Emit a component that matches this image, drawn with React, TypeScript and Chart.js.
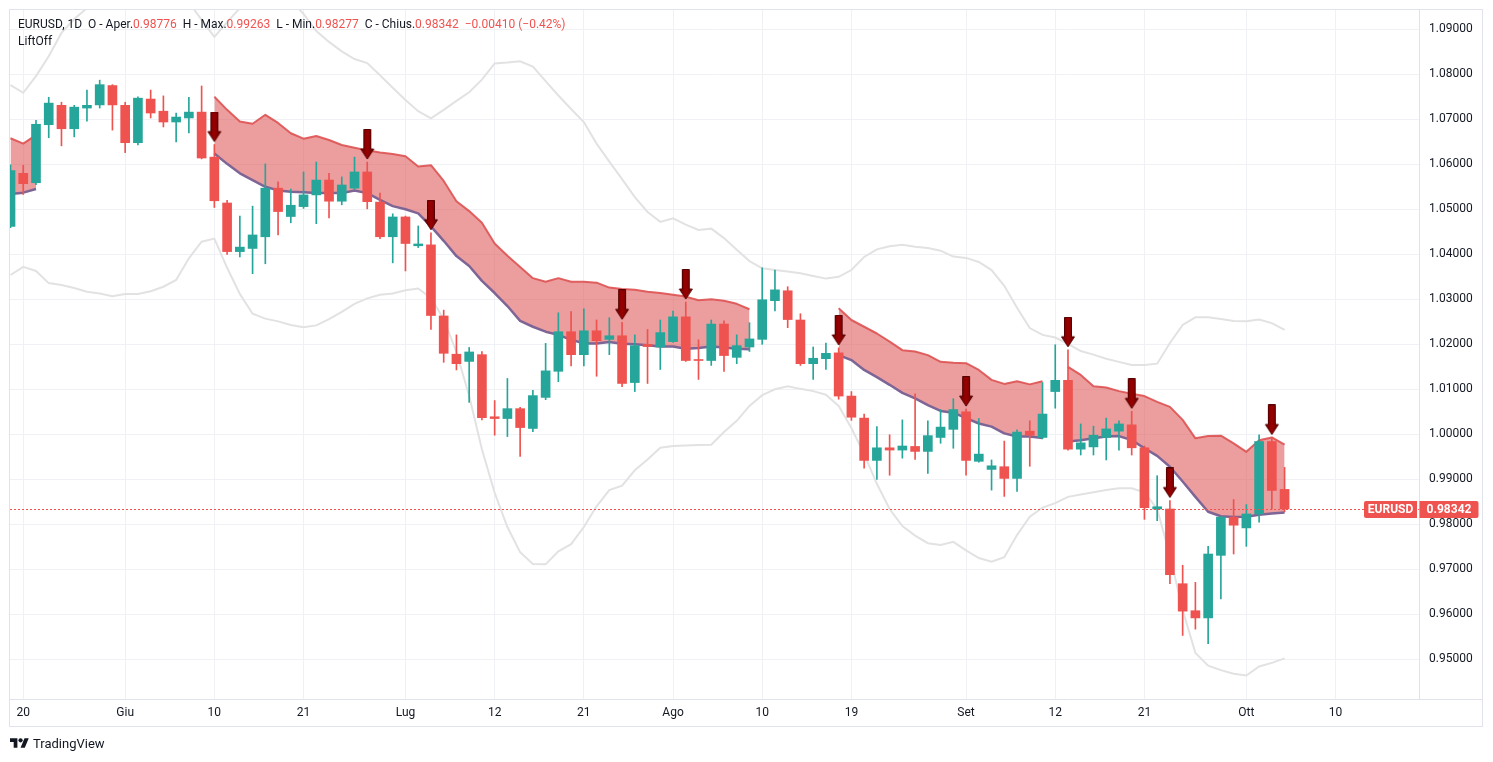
import React, { useEffect, useRef } from 'react';
import { Chart, registerables } from 'chart.js';

Chart.register(...registerables);

// ---------- data ----------
const symbol = 'EURUSD';
const timeframe = '1D';
const indicatorName = 'LiftOff';

const dates = [
  '05-19', '05-20', '05-23', '05-24', '05-25', '05-26', '05-27', '05-30', '05-31',
  '06-01', '06-02', '06-03', '06-06', '06-07', '06-08', '06-09', '06-10', '06-13', '06-14', '06-15', '06-16', '06-17',
  '06-20', '06-21', '06-22', '06-23', '06-24', '06-27', '06-28', '06-29', '06-30',
  '07-01', '07-04', '07-05', '07-06', '07-07', '07-08', '07-11', '07-12', '07-13', '07-14', '07-15',
  '07-18', '07-19', '07-20', '07-21', '07-22', '07-25', '07-26', '07-27', '07-28', '07-29',
  '08-01', '08-02', '08-03', '08-04', '08-05', '08-08', '08-09', '08-10', '08-11', '08-12',
  '08-15', '08-16', '08-17', '08-18', '08-19', '08-22', '08-23', '08-24', '08-25', '08-26',
  '08-29', '08-30', '08-31',
  '09-01', '09-02', '09-05', '09-06', '09-07', '09-08', '09-09', '09-12', '09-13', '09-14', '09-15', '09-16',
  '09-19', '09-20', '09-21', '09-22', '09-23', '09-26', '09-27', '09-28', '09-29', '09-30',
  '10-03', '10-04', '10-05', '10-06',
];
const futureDates = ['10-07', '10-08', '10-09', '10-10', '10-11', '10-12', '10-13', '10-14', '10-15', '10-16', '10-17'];

const opens = [
  1.0462, 1.0580, 1.0559, 1.0688, 1.0731, 1.0679, 1.0725, 1.0732, 1.0775, 1.0731,
  1.0648, 1.0745, 1.0718, 1.0694, 1.0703, 1.0716, 1.0616, 1.0514, 1.0406, 1.0413,
  1.0439, 1.0547, 1.0484, 1.0506, 1.0532, 1.0565, 1.0518, 1.0547, 1.0583, 1.0516,
  1.0439, 1.0483, 1.0419, 1.0421, 1.0263, 1.0178, 1.0162, 1.0177, 1.0039, 1.0035,
  1.0057, 1.0013, 1.0082, 1.0140, 1.0228, 1.0177, 1.0230, 1.0211, 1.0219, 1.0115,
  1.0200, 1.0194, 1.0206, 1.0261, 1.0166, 1.0164, 1.0245, 1.0171, 1.0194, 1.0211,
  1.0297, 1.0319, 1.0254, 1.0157, 1.0168, 1.0181, 1.0085, 1.0036, 0.9942, 0.9970,
  0.9965, 0.9973, 0.9962, 0.9993, 1.0011, 1.0050, 0.9940, 0.9922, 0.9928, 0.9902,
  1.0007, 0.9993, 1.0095, 1.0120, 0.9967, 0.9972, 0.9993, 1.0007, 1.0021, 0.9970,
  0.9834, 0.9834, 0.9668, 0.9608, 0.9592, 0.9731, 0.9816, 0.9792, 0.9823, 0.9984,
  0.98776,
];
const highs = [
  1.0599, 1.0598, 1.0698, 1.0749, 1.0738, 1.0731, 1.0765, 1.0787, 1.0777, 1.0738,
  1.0750, 1.0765, 1.0752, 1.0714, 1.0749, 1.0774, 1.0644, 1.0520, 1.0485, 1.0507,
  1.0601, 1.0561, 1.0545, 1.0583, 1.0605, 1.0580, 1.0572, 1.0616, 1.0605, 1.0536,
  1.0490, 1.0485, 1.0463, 1.0448, 1.0276, 1.0221, 1.0193, 1.0184, 1.0075, 1.0124,
  1.0060, 1.0098, 1.0202, 1.0270, 1.0273, 1.0279, 1.0254, 1.0259, 1.0249, 1.0221,
  1.0233, 1.0254, 1.0274, 1.0294, 1.0210, 1.0254, 1.0252, 1.0221, 1.0248, 1.0370,
  1.0365, 1.0328, 1.0268, 1.0194, 1.0203, 1.0192, 1.0095, 1.0045, 1.0017, 0.9999,
  1.0032, 1.0090, 1.0030, 1.0055, 1.0079, 1.0056, 1.0035, 0.9943, 0.9985, 1.0010,
  1.0030, 1.0115, 1.0199, 1.0188, 1.0023, 1.0018, 1.0036, 1.0030, 1.0051, 0.9974,
  0.9908, 0.9853, 0.9709, 0.9671, 0.9751, 0.9817, 0.9855, 0.9844, 0.9999, 0.9993,
  0.99263,
];
const lows = [
  1.0459, 1.0533, 1.0555, 1.0659, 1.0641, 1.0661, 1.0696, 1.0725, 1.0676, 1.0626,
  1.0643, 1.0703, 1.0683, 1.0650, 1.0670, 1.0612, 1.0504, 1.0400, 1.0394, 1.0357,
  1.0379, 1.0443, 1.0470, 1.0502, 1.0468, 1.0481, 1.0510, 1.0545, 1.0501, 1.0435,
  1.0381, 1.0363, 1.0415, 1.0233, 1.0160, 1.0143, 1.0071, 1.0032, 0.9998, 0.9995,
  0.9951, 1.0006, 1.0077, 1.0117, 1.0152, 1.0152, 1.0129, 1.0177, 1.0106, 1.0095,
  1.0113, 1.0144, 1.0204, 1.0162, 1.0122, 1.0153, 1.0140, 1.0157, 1.0184, 1.0200,
  1.0274, 1.0237, 1.0153, 1.0122, 1.0144, 1.0078, 1.0031, 0.9925, 0.9900, 0.9909,
  0.9947, 0.9944, 0.9913, 0.9980, 0.9969, 0.9909, 0.9938, 0.9876, 0.9862, 0.9873,
  0.9929, 0.9990, 1.0058, 0.9965, 0.9954, 0.9954, 0.9943, 0.9965, 0.9954, 0.9811,
  0.9808, 0.9668, 0.9553, 0.9567, 0.9535, 0.9634, 0.9734, 0.9751, 0.9805, 0.9834,
  0.98277,
];
const closes = [
  1.0586, 1.0557, 1.0689, 1.0736, 1.0679, 1.0727, 1.0731, 1.0777, 1.0732, 1.0648,
  1.0747, 1.0714, 1.0694, 1.0705, 1.0716, 1.0614, 1.0519, 1.0406, 1.0416, 1.0443,
  1.0547, 1.0495, 1.0509, 1.0532, 1.0565, 1.0518, 1.0554, 1.0583, 1.0517, 1.0439,
  1.0483, 1.0424, 1.0423, 1.0264, 1.0180, 1.0157, 1.0183, 1.0037, 1.0035, 1.0057,
  1.0015, 1.0086, 1.0141, 1.0228, 1.0177, 1.0230, 1.0208, 1.0219, 1.0113, 1.0197,
  1.0195, 1.0226, 1.0261, 1.0164, 1.0164, 1.0245, 1.0175, 1.0197, 1.0212, 1.0299,
  1.0321, 1.0255, 1.0157, 1.0169, 1.0180, 1.0085, 1.0038, 0.9942, 0.9970, 0.9965,
  0.9974, 0.9962, 0.9997, 1.0016, 1.0055, 0.9942, 0.9956, 0.9930, 0.9902, 1.0005,
  0.9998, 1.0045, 1.0120, 0.9967, 0.9981, 0.9998, 1.0012, 1.0023, 0.9970, 0.9837,
  0.9839, 0.9688, 0.9607, 0.9592, 0.9734, 0.9816, 0.9798, 0.9823, 0.9984, 0.98752,
  0.98342,
];

const bbUpper = [
  1.0776, 1.0759, 1.0796, 1.0840, 1.0892, 1.0923, 1.0947, 1.0968, 1.0985, 1.0995,
  1.1000, 1.0998, 1.0990, 1.0978, 1.0960, 1.0921, 1.0883, 1.0916, 1.0947, 1.0965,
  1.0975, 1.0978, 1.0965, 1.0934, 1.0896, 1.0872, 1.0851, 1.0834, 1.0825, 1.0798,
  1.0770, 1.0743, 1.0718, 1.0702, 1.0721, 1.0741, 1.0760, 1.0788, 1.0824, 1.0826,
  1.0829, 1.0817, 1.0785, 1.0753, 1.0723, 1.0694, 1.0646, 1.0606, 1.0567, 1.0527,
  1.0494, 1.0472, 1.0480, 1.0466, 1.0454, 1.0457, 1.0436, 1.0410, 1.0385, 1.0369,
  1.0365, 1.0362, 1.0358, 1.0352, 1.0346, 1.0350, 1.0365, 1.0394, 1.0411, 1.0418,
  1.0421, 1.0417, 1.0414, 1.0408, 1.0395, 1.0392, 1.0383, 1.0365, 1.0330, 1.0281,
  1.0236, 1.0221, 1.0215, 1.0201, 1.0185, 1.0177, 1.0168, 1.0161, 1.0154, 1.0154,
  1.0157, 1.0203, 1.0243, 1.0260, 1.0260, 1.0256, 1.0252, 1.0251, 1.0255, 1.0247,
  1.0232,
];
const bbLower = [
  1.0354, 1.0372, 1.0363, 1.0336, 1.0332, 1.0325, 1.0317, 1.0313, 1.0307, 1.0312,
  1.0312, 1.0318, 1.0328, 1.0343, 1.0391, 1.0428, 1.0435, 1.0370, 1.0312, 1.0268,
  1.0257, 1.0251, 1.0243, 1.0238, 1.0242, 1.0256, 1.0272, 1.0290, 1.0302, 1.0310,
  1.0313, 1.0320, 1.0324, 1.0303, 1.0256, 1.0183, 1.0085, 0.9967, 0.9870, 0.9794,
  0.9738, 0.9712, 0.9711, 0.9740, 0.9756, 0.9794, 0.9840, 0.9876, 0.9886, 0.9920,
  0.9944, 0.9970, 0.9974, 0.9975, 0.9976, 0.9977, 1.0005, 1.0030, 1.0063, 1.0087,
  1.0100, 1.0107, 1.0101, 1.0096, 1.0088, 1.0063, 1.0014, 0.9956, 0.9890, 0.9834,
  0.9796, 0.9775, 0.9758, 0.9754, 0.9761, 0.9742, 0.9725, 0.9717, 0.9727, 0.9776,
  0.9817, 0.9837, 0.9847, 0.9861, 0.9866, 0.9871, 0.9876, 0.9880, 0.9880, 0.9871,
  0.9834, 0.9730, 0.9610, 0.9514, 0.9486, 0.9476, 0.9468, 0.9464, 0.9484, 0.9492,
  0.9502,
];

const N = null;
const bandUpper: (number | null)[] = [
  1.0658, 1.0646, 1.0665, N, N, N, N, N, N, N,
  N, N, N, N, N, N, 1.0750, 1.0721, 1.0695, 1.0690,
  1.0710, 1.0692, 1.0669, 1.0657, 1.0663, 1.0654, 1.0643, 1.0637, 1.0631, 1.0626,
  1.0623, 1.0618, 1.0595, 1.0598, 1.0563, 1.0518, 1.0496, 1.0470, 1.0424, 1.0397,
  1.0372, 1.0347, 1.0339, 1.0347, 1.0339, 1.0339, 1.0337, 1.0326, 1.0323, 1.0321,
  1.0317, 1.0314, 1.0310, 1.0306, 1.0298, 1.0300, 1.0297, 1.0290, 1.0278, N,
  N, N, N, N, N, 1.0280, 1.0254, 1.0239, 1.0224, 1.0206,
  1.0187, 1.0184, 1.0176, 1.0161, 1.0159, 1.0158, 1.0143, 1.0121, 1.0112, 1.0118,
  1.0111, 1.0118, N, 1.0150, 1.0132, 1.0107, 1.0104, 1.0096, 1.0090, 1.0085,
  1.0072, 1.0061, 1.0032, 0.9991, 0.9996, 0.9997, 0.9980, 0.9961, 0.9987, 0.9993,
  0.9977,
];
const bandLower: (number | null)[] = [
  1.0534, 1.0537, 1.0545, N, N, N, N, N, N, N,
  N, N, N, N, N, N, 1.0624, 1.0601, 1.0580, 1.0565,
  1.0550, 1.0542, 1.0539, 1.0538, 1.0536, 1.0536, 1.0536, 1.0542, 1.0536, 1.0521,
  1.0507, 1.0500, 1.0491, 1.0462, 1.0430, 1.0396, 1.0374, 1.0341, 1.0314, 1.0285,
  1.0252, 1.0239, 1.0228, 1.0221, 1.0210, 1.0202, 1.0202, 1.0205, 1.0201, 1.0200,
  1.0198, 1.0195, 1.0195, 1.0190, 1.0192, 1.0195, 1.0193, 1.0190, 1.0189, N,
  N, N, N, N, N, 1.0176, 1.0165, 1.0143, 1.0127, 1.0110,
  1.0092, 1.0080, 1.0065, 1.0052, 1.0048, 1.0036, 1.0024, 1.0017, 1.0002, 0.9995,
  0.9995, 0.9992, N, 0.9984, 0.9987, 0.9991, 0.9995, 0.9996, 0.9987, 0.9969,
  0.9952, 0.9928, 0.9895, 0.9861, 0.9828, 0.9818, 0.9816, 0.9817, 0.9821, 0.9824,
  0.9826,
];

const arrowDates = ['06-10', '06-28', '07-05', '07-26', '08-02', '08-18', '09-01', '09-13', '09-20', '09-23', '10-05'];

const tickDates = ['05-20', '06-01', '06-10', '06-21', '07-01', '07-12', '07-21', '08-01', '08-10', '08-19', '09-01', '09-12', '09-21', '10-03', '10-10'];
const tickLabels = ['20', 'Giu', '10', '21', 'Lug', '12', '21', 'Ago', '10', '19', 'Set', '12', '21', 'Ott', '10'];
const priceTicks = [0.95, 0.96, 0.97, 0.98, 0.99, 1.0, 1.01, 1.02, 1.03, 1.04, 1.05, 1.06, 1.07, 1.08, 1.09];

// ---------- style / layout ----------
const UP = '#26a69a';
const DOWN = '#ef5350';
const TEXT = '#131722';
const GRID = '#f0f1f4';
const BORDER = '#e0e3eb';
const FONT = 'Roboto, "Liberation Sans", Arial, sans-serif';

const X_MIN = -0.04;
const X_MAX = 110.55;
const Y_MIN = 0.94118;
const Y_MAX = 1.09429;

const slots = [...dates, ...futureDates];
const slotIndex = (d: string) => slots.indexOf(d);

function segmentsOf(arr: (number | null)[]) {
  const segs: [number, number][] = [];
  let start = -1;
  arr.forEach((v, i) => {
    if (v != null && start < 0) start = i;
    if (start >= 0 && (v == null || i === arr.length - 1)) {
      segs.push([start, v == null ? i - 1 : i]);
      start = -1;
    }
  });
  return segs;
}

function makeArrow() {
  const c = document.createElement('canvas');
  c.width = 16;
  c.height = 66;
  const g = c.getContext('2d')!;
  g.beginPath();
  g.moveTo(4.5, 0.5);
  g.lineTo(11.5, 0.5);
  g.lineTo(11.5, 20);
  g.lineTo(14.5, 20);
  g.lineTo(8, 30);
  g.lineTo(1.5, 20);
  g.lineTo(4.5, 20);
  g.closePath();
  const grad = g.createLinearGradient(2, 0, 14, 0);
  grad.addColorStop(0, '#6a0000');
  grad.addColorStop(0.5, '#9a0000');
  grad.addColorStop(1, '#6a0000');
  g.fillStyle = grad;
  g.fill();
  g.strokeStyle = '#560000';
  g.lineWidth = 1;
  g.stroke();
  return c;
}

const fmt = (v: number) => v.toFixed(5);

export default function App() {
  const ref = useRef<HTMLCanvasElement>(null);

  const last = dates.length - 1;
  const change = closes[last] - closes[last - 1];
  const pct = (change / closes[last - 1]) * 100;
  const lastPrice = closes[last];

  useEffect(() => {
    const canvas = ref.current;
    if (!canvas) return;
    const arrowImg = makeArrow();
    const colors = closes.map((c, i) => (c >= opens[i] ? UP : DOWN));

    const datasets: any[] = [];
    datasets.push({
      type: 'scatter',
      data: arrowDates.map((d) => ({ x: slotIndex(d), y: highs[slotIndex(d)] })),
      pointStyle: arrowImg,
      pointRadius: 5,
      order: 0,
    });
    datasets.push({
      type: 'bar',
      data: dates.map((d, i) => ({ x: i, y: [opens[i], closes[i]] })),
      backgroundColor: colors,
      barThickness: 9,
      grouped: false,
      minBarLength: 1,
      borderWidth: 0,
      order: 1,
    });
    datasets.push({
      type: 'bar',
      data: dates.map((d, i) => ({ x: i, y: [lows[i], highs[i]] })),
      backgroundColor: colors,
      barThickness: 1,
      grouped: false,
      borderWidth: 0,
      order: 2,
    });
    segmentsOf(bandUpper).forEach(([s, e]) => {
      const xs: number[] = [];
      for (let i = s; i <= e; i++) xs.push(i);
      datasets.push({
        type: 'line',
        data: xs.map((i) => ({ x: i, y: bandUpper[i] })),
        borderColor: 'rgba(222, 82, 82, 0.9)',
        borderWidth: 2,
        backgroundColor: 'rgba(223, 86, 86, 0.58)',
        fill: '+1',
        pointRadius: 0,
        tension: 0,
        borderJoinStyle: 'round',
        order: 4,
      });
      datasets.push({
        type: 'line',
        data: xs.map((i) => ({ x: i, y: bandLower[i] })),
        borderColor: '#7d6596',
        borderWidth: 2.5,
        fill: false,
        pointRadius: 0,
        tension: 0,
        borderJoinStyle: 'round',
        order: 3,
      });
    });
    [bbUpper, bbLower].forEach((arr) => {
      datasets.push({
        type: 'line',
        data: arr.map((v, i) => ({ x: i, y: v })),
        borderColor: '#e2e2e2',
        borderWidth: 2,
        fill: false,
        pointRadius: 0,
        tension: 0,
        order: 5,
      });
    });

    const overlay = {
      id: 'overlay',
      afterDatasetsDraw(chart: any) {
        const { ctx, chartArea, scales } = chart;
        const py = Math.round(scales.y.getPixelForValue(lastPrice)) + 0.5;
        ctx.save();
        ctx.beginPath();
        ctx.rect(chartArea.left, chartArea.top, chartArea.right - chartArea.left, chartArea.bottom - chartArea.top);
        ctx.clip();
        ctx.strokeStyle = DOWN;
        ctx.lineWidth = 1;
        ctx.setLineDash([2, 2]);
        ctx.beginPath();
        ctx.moveTo(chartArea.left, py);
        ctx.lineTo(chartArea.right, py);
        ctx.stroke();
        ctx.restore();
      },
      afterDraw(chart: any) {
        const { ctx, chartArea, scales } = chart;
        const w = chart.width;
        ctx.save();
        // frame
        ctx.strokeStyle = BORDER;
        ctx.lineWidth = 1;
        const frameRight = w - 3;
        const frameBottom = chartArea.bottom + 27;
        ctx.strokeRect(1.5, 1.5, frameRight - 1, frameBottom - 1);
        ctx.beginPath();
        ctx.moveTo(chartArea.right, chartArea.bottom + 0.5);
        ctx.lineTo(frameRight, chartArea.bottom + 0.5);
        ctx.stroke();
        // price labels
        const py = Math.round(scales.y.getPixelForValue(lastPrice));
        const h = 17;
        const top = py - 8;
        ctx.fillStyle = DOWN;
        ctx.beginPath();
        ctx.roundRect(chartArea.right - 55, top, 53, h, [2, 0, 0, 2]);
        ctx.fill();
        ctx.beginPath();
        ctx.roundRect(chartArea.right + 0.5, top, 59, h, [0, 2, 2, 0]);
        ctx.fill();
        ctx.fillStyle = '#ffffff';
        ctx.textBaseline = 'middle';
        ctx.textAlign = 'center';
        ctx.font = `bold 12px ${FONT}`;
        ctx.fillText(symbol, chartArea.right - 28.5, top + h / 2 + 0.5);
        ctx.fillText(fmt(lastPrice), chartArea.right + 30, top + h / 2 + 0.5);
        ctx.restore();
      },
    };

    const chart = new Chart(canvas, {
      type: 'bar',
      data: { datasets },
      plugins: [overlay],
      options: {
        animation: false,
        responsive: true,
        maintainAspectRatio: false,
        devicePixelRatio: 1,
        events: [],
        layout: { padding: { left: 2, top: 2, right: 3, bottom: 28 }, autoPadding: false },
        plugins: { legend: { display: false }, tooltip: { enabled: false } },
        scales: {
          x: {
            type: 'linear',
            min: X_MIN,
            max: X_MAX,
            bounds: 'data',
            offset: false,
            afterBuildTicks: (s: any) => {
              s.ticks = tickDates.map((d) => ({ value: slotIndex(d) }));
            },
            afterFit: (s: any) => {
              s.height = 27;
              s.paddingLeft = 0;
              s.paddingRight = 0;
            },
            ticks: {
              autoSkip: false,
              maxRotation: 0,
              minRotation: 0,
              padding: 7,
              color: TEXT,
              font: { family: FONT, size: 12 },
              callback: (_v: any, i: number) => tickLabels[i],
            },
            grid: { color: GRID, drawTicks: false, offset: false },
            border: { display: true, color: BORDER },
          },
          y: {
            type: 'linear',
            position: 'right',
            min: Y_MIN,
            max: Y_MAX,
            bounds: 'data',
            beginAtZero: false,
            afterBuildTicks: (s: any) => {
              s.ticks = priceTicks.map((v) => ({ value: v }));
            },
            afterFit: (s: any) => {
              s.width = 63;
              s.paddingTop = 0;
              s.paddingBottom = 0;
            },
            ticks: {
              autoSkip: false,
              padding: 10,
              color: TEXT,
              font: { family: FONT, size: 12 },
              callback: (v: any) => Number(v).toFixed(5),
            },
            grid: { color: GRID, drawTicks: false },
            border: { display: true, color: BORDER },
          },
        },
      } as any,
    });
    return () => chart.destroy();
  }, []);

  const red = { color: DOWN };
  return (
    <div style={{ position: 'relative', width: 1477, height: 746, fontFamily: FONT }}>
      <canvas ref={ref} />
      <div
        style={{
          position: 'absolute',
          left: 10,
          top: 8,
          fontSize: 12,
          lineHeight: '17px',
          color: TEXT,
          whiteSpace: 'pre',
          pointerEvents: 'none',
        }}
      >
        <div>
          {`${symbol}, ${timeframe}  O - Aper.`}
          <span style={red}>{fmt(opens[last])}</span>
          {'  H - Max.'}
          <span style={red}>{fmt(highs[last])}</span>
          {'  L - Min.'}
          <span style={red}>{fmt(lows[last])}</span>
          {'  C - Chius.'}
          <span style={red}>{fmt(closes[last])}</span>
          {'  '}
          <span style={red}>{`${change < 0 ? '\u2212' : '+'}${fmt(Math.abs(change))} (${pct < 0 ? '\u2212' : '+'}${Math.abs(pct).toFixed(2)}%)`}</span>
        </div>
        <div>{indicatorName}</div>
      </div>
      <div
        style={{
          position: 'absolute',
          left: 2,
          top: 727,
          height: 16,
          display: 'flex',
          alignItems: 'center',
          gap: 4,
          color: TEXT,
          fontSize: 13,
        }}
      >
        <svg width="19" height="15" viewBox="0 0 36 28">
          <path d="M14 22H7V11H0V4h14v18zM28 22h-8l7.5-18h8L28 22z" fill="#131722" />
          <circle cx="20" cy="8" r="4" fill="#131722" />
        </svg>
        <span>TradingView</span>
      </div>
    </div>
  );
}
